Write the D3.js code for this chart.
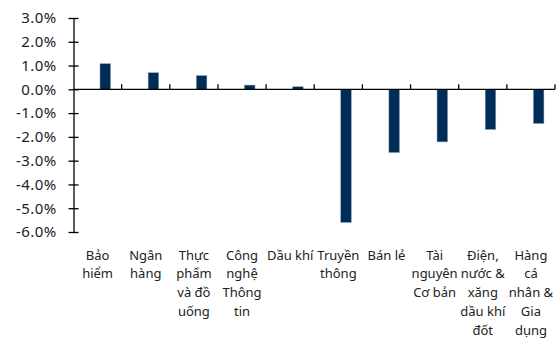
<!DOCTYPE html>
<html>
<head>
<meta charset="utf-8">
<script src="https://cdn.jsdelivr.net/npm/d3@7"></script>
<style>
  body { margin: 0; background: #fff; }
  svg text { font-family: "Noto Sans", sans-serif; fill: #222; }
</style>
</head>
<body>
<div id="chart"></div>
<script>
const categories = ['Bảo hiểm', 'Ngân hàng', 'Thực phẩm và đồ uống', 'Công nghệ Thông tin', 'Dầu khí',
  'Truyền thông', 'Bán lẻ', 'Tài nguyên Cơ bản', 'Điện, nước & xăng dầu khí đốt', 'Hàng cá nhân & Gia dụng'];
const labelLines = [
  ['Bảo', 'hiểm'], ['Ngân', 'hàng'], ['Thực', 'phẩm', 'và đồ', 'uống'], ['Công', 'nghệ', 'Thông', 'tin'],
  ['Dầu khí'], ['Truyền', 'thông'], ['Bán lẻ'], ['Tài', 'nguyên', 'Cơ bản'],
  ['Điện,', 'nước &', 'xăng', 'dầu khí', 'đốt'], ['Hàng', 'cá', 'nhân &', 'Gia', 'dụng']
];
const values = [1.08, 0.70, 0.58, 0.18, 0.11, -5.6, -2.66, -2.21, -1.69, -1.44];
const yTicks = [3, 2, 1, 0, -1, -2, -3, -4, -5, -6];

const width = 559, height = 343;
const margin = {top: 18, right: 4, bottom: 111, left: 73.5};

const svg = d3.select('#chart').append('svg')
  .attr('width', width).attr('height', height);

const x = d3.scaleBand().domain(categories).range([margin.left, width - margin.right]).padding(0);
const y = d3.scaleLinear().domain([-6, 3]).range([height - margin.bottom, margin.top]);
const bw = x.bandwidth();

// bars
svg.append('g').selectAll('rect')
  .data(values)
  .join('rect')
  .attr('x', (d, i) => x(categories[i]) + bw * 0.55)
  .attr('width', bw * 0.22)
  .attr('y', d => y(Math.max(0, d)))
  .attr('height', d => Math.abs(y(d) - y(0)))
  .attr('fill', '#002c58')
  .attr('stroke', '#8fa7c0')
  .attr('stroke-width', 0.5);

// y axis
const yAxis = svg.append('g')
  .attr('transform', `translate(${margin.left},0)`)
  .call(d3.axisLeft(y).tickValues(yTicks).tickSize(0).tickPadding(17)
    .tickFormat(d => d.toFixed(1) + '%'));
yAxis.select('.domain').attr('stroke', '#000').attr('stroke-width', 1.3);
yAxis.selectAll('.tick line').attr('x1', -5).attr('x2', 5).attr('stroke', '#000').attr('stroke-width', 1.3);
yAxis.selectAll('.tick text').attr('font-size', 15).attr('letter-spacing', 0.4).attr('fill', '#222');

// x axis at zero
const x0 = svg.append('g').attr('transform', `translate(0,${y(0)})`);
x0.append('line')
  .attr('x1', margin.left).attr('x2', width - margin.right)
  .attr('stroke', '#000').attr('stroke-width', 1.3);
x0.selectAll('.xt')
  .data(categories.slice(1).concat(['end']))
  .join('line')
  .attr('class', 'xt')
  .attr('x1', (d, i) => i < categories.length - 1 ? x(d) : width - margin.right)
  .attr('x2', (d, i) => i < categories.length - 1 ? x(d) : width - margin.right)
  .attr('y1', 0).attr('y2', -5)
  .attr('stroke', '#000').attr('stroke-width', 1.3);

// category labels
const lab = svg.append('g').selectAll('text')
  .data(categories)
  .join('text')
  .attr('text-anchor', 'middle')
  .attr('font-size', 13)
  .attr('transform', d => `translate(${x(d) + bw / 2},${259.5})`);
lab.selectAll('tspan')
  .data((d, i) => labelLines[i])
  .join('tspan')
  .attr('x', 0)
  .attr('y', (d, j) => j * 18.8)
  .text(d => d);
</script>
</body>
</html>
